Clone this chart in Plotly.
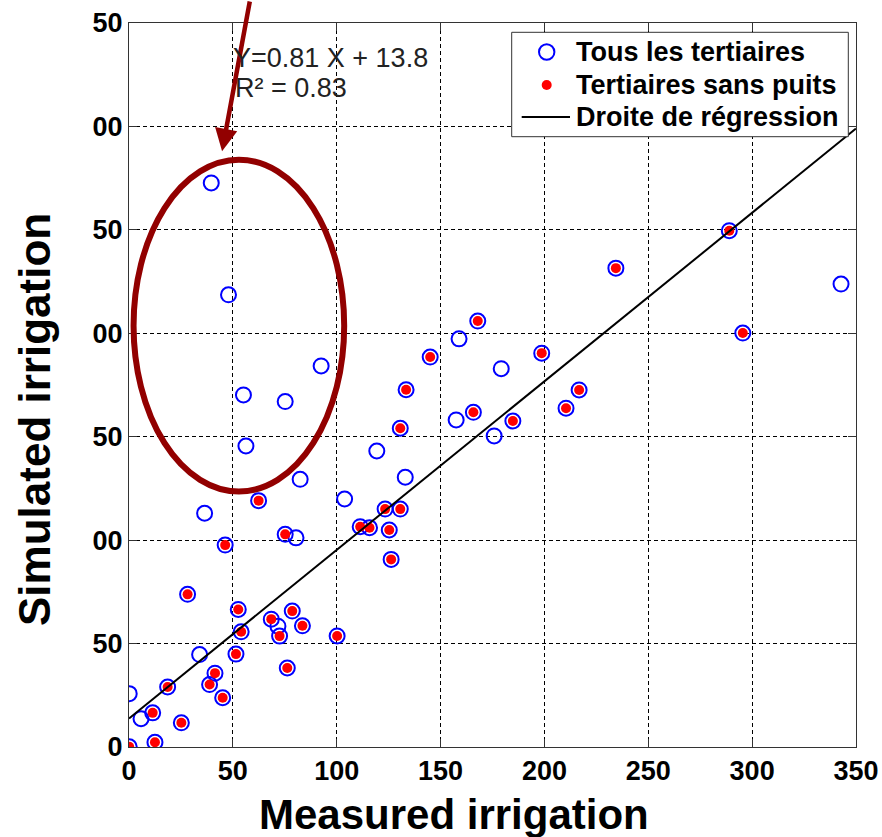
import plotly.graph_objects as go

# ---- data ----
# all tertiaries (measured, simulated)
all_x = [39.6, 47.9, 92.5, 55.1, 75.2, 56.3, 119.3, 82.4, 133.0, 103.8, 36.4, 80.4,
         71.7, 34.0, 0.1, 5.8, 342.8, 158.9, 179.2, 157.5, 175.8,
         145.0, 133.4, 130.6, 62.4, 123.3, 130.6, 111.3, 115.8, 125.3, 75.2, 46.3, 126.2,
         28.2, 52.6, 78.6, 68.5, 83.5, 54.0, 72.5, 100.2, 51.5, 76.2, 41.4, 38.8, 18.6,
         45.1, 11.4, 25.2, 12.5, 0.1, 198.7, 167.9, 216.7, 210.4, 165.8, 184.8, 234.4,
         289.0, 295.5]
all_y = [272.7, 218.6, 184.2, 170.2, 167.0, 145.5, 143.1, 129.4, 130.4, 119.9, 113.0, 101.1,
         58.4, 44.7, 25.8, 13.7, 223.8, 197.3, 182.9, 158.1, 150.4,
         188.5, 172.7, 154.1, 119.1, 115.0, 115.0, 106.5, 106.0, 104.9, 102.8, 97.6, 90.7,
         73.8, 66.5, 65.7, 61.8, 58.6, 55.7, 53.6, 53.7, 44.9, 38.2, 35.7, 30.2, 29.0,
         23.8, 16.5, 11.7, 2.3, 0.1, 190.4, 205.9, 172.6, 163.8, 161.8, 157.6, 231.5,
         249.6, 200.1]
# tertiaries without wells
nowell_x = all_x[21:]
nowell_y = all_y[21:]

# regression line end values
reg_x = [0, 350]
reg_y = [13.8, 299.0]

x_ticks = [0, 50, 100, 150, 200, 250, 300, 350]
y_ticks = [0, 50, 100, 150, 200, 250, 300, 350]
y_ticktext = ["0", "50", "00", "50", "00", "50", "00", "50"]

legend_names = ["Tous les tertiaires", "Tertiaires sans puits", "Droite de régression"]
x_title = "Measured irrigation"
y_title = "Simulated irrigation"
eq_text = "Y=0.81 X + 13.8"
r2_text = "R² = 0.83"

FONT = "Arial, Liberation Sans, sans-serif"
DARKRED = "#920000"
W, H = 882, 837
ML, MR, MT, MB = 129, 26, 23, 90
PW, PH = W - ML - MR, H - MT - MB


def px2paper(px):
    return (px - ML) / PW


def py2paper(py):
    return (H - MB - py) / PH


fig = go.Figure()
fig.add_trace(go.Scatter(x=all_x, y=all_y, mode="markers", name=legend_names[0],
                         marker=dict(symbol="circle-open", size=15, color="#0000FF",
                                     line=dict(width=2, color="#0000FF"))))
fig.add_trace(go.Scatter(x=nowell_x, y=nowell_y, mode="markers", name=legend_names[1],
                         marker=dict(symbol="circle", size=10, color="#FF0000",
                                     line=dict(width=0))))
fig.add_trace(go.Scatter(x=reg_x, y=reg_y, mode="lines", name=legend_names[2],
                         line=dict(color="black", width=2)))

axis_common = dict(
    showgrid=True, gridcolor="black", gridwidth=1, griddash="4px,3px",
    showline=True, linecolor="#333333", linewidth=1, mirror="ticks",
    ticks="inside", ticklen=8, tickcolor="#333333", tickwidth=1,
    zeroline=False, automargin=False,
    tickfont=dict(family=FONT, size=27, color="black", weight="bold"),
)

fig.update_xaxes(range=[0, 350], tickvals=x_ticks, **axis_common)
fig.update_yaxes(range=[0, 350], tickvals=y_ticks, ticktext=y_ticktext, **axis_common)

# axis titles (positioned as in the reference, off-centre)
fig.add_annotation(x=px2paper(454), y=py2paper(814), xref="paper", yref="paper",
                   text=x_title, showarrow=False, xanchor="center", yanchor="middle",
                   font=dict(family=FONT, size=42, color="black", weight="bold"))
fig.add_annotation(x=px2paper(34), y=py2paper(420), xref="paper", yref="paper",
                   text=y_title, showarrow=False, textangle=-90,
                   xanchor="center", yanchor="middle",
                   font=dict(family=FONT, size=44, color="black", weight="bold"))

# red ellipse
fig.add_shape(type="circle", xref="x", yref="y", x0=2.2, x1=103.6, y0=123.5, y1=283.9,
              line=dict(color=DARKRED, width=6))

# arrow
fig.add_annotation(x=44.8, y=288.0, xref="x", yref="y", text="", showarrow=True,
                   ax=28, ay=-160, axref="pixel", ayref="pixel",
                   arrowhead=2, arrowsize=1, arrowwidth=4.5, arrowcolor=DARKRED,
                   standoff=0)

# regression text
fig.add_annotation(x=px2paper(231), y=py2paper(58), xref="paper", yref="paper", text=eq_text,
                   showarrow=False, xanchor="left", yanchor="middle",
                   font=dict(family=FONT, size=27, color="#222222"))
fig.add_annotation(x=px2paper(233), y=py2paper(88), xref="paper", yref="paper", text=r2_text,
                   showarrow=False, xanchor="left", yanchor="middle",
                   font=dict(family=FONT, size=27, color="#222222"))

# ---- legend (drawn to match the reference box) ----
fig.add_shape(type="rect", xref="paper", yref="paper",
              x0=px2paper(511.7), x1=px2paper(848.3), y0=py2paper(136.7), y1=py2paper(32.3),
              line=dict(color="#333333", width=1), fillcolor="white", layer="above")
fig.add_shape(type="circle", xref="paper", yref="paper",
              x0=px2paper(539), x1=px2paper(554.4), y0=py2paper(59.7), y1=py2paper(44.3),
              line=dict(color="#0000FF", width=2), layer="above")
fig.add_shape(type="circle", xref="paper", yref="paper",
              x0=px2paper(541.7), x1=px2paper(551.7), y0=py2paper(90), y1=py2paper(80),
              line=dict(width=0), fillcolor="#FF0000", layer="above")
fig.add_shape(type="line", xref="paper", yref="paper",
              x0=px2paper(521.7), x1=px2paper(570), y0=py2paper(117), y1=py2paper(117),
              line=dict(color="black", width=2), layer="above")
for name, row_y in zip(legend_names, [52, 85, 117]):
    fig.add_annotation(x=px2paper(574), y=py2paper(row_y), xref="paper", yref="paper",
                       text=name, showarrow=False, xanchor="left", yanchor="middle",
                       font=dict(family=FONT, size=27, color="black", weight="bold"))

fig.update_layout(
    width=W, height=H,
    margin=dict(l=ML, r=MR, t=MT, b=MB),
    paper_bgcolor="white", plot_bgcolor="white",
    font=dict(family=FONT),
    showlegend=False,
)

fig.write_html("out.html",
               config={"displayModeBar": False},
               post_script="document.body.style.margin='0';"
                           "document.body.style.overflow='hidden';")
